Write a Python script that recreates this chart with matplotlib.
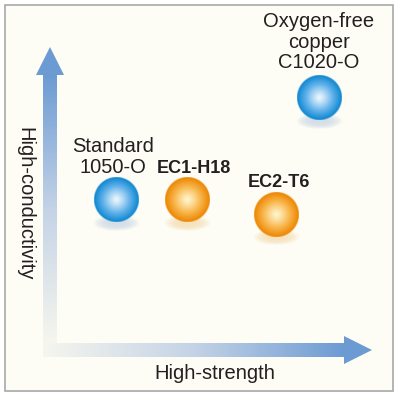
import numpy as np
import matplotlib
matplotlib.use("Agg")
import matplotlib.pyplot as plt
from matplotlib.patches import Rectangle, Polygon
from matplotlib.colors import LinearSegmentedColormap, to_rgb

# ---- data (arbitrary units) ----
materials = ["Standard\n1050-O", "EC1-H18", "EC2-T6", "Oxygen-free\ncopper\nC1020-O"]
strength = [116, 187, 276, 319]
conductivity = [197, 197, 182.5, 299]
kind = ["Al", "EC", "EC", "Cu"]
bold = [False, True, True, False]
x_label = "High-strength"
y_label = "High-conductivity"

# ---- styling ----
W, H = 400, 397
BG = "#fdfdf5"
plt.rcParams["font.family"] = ["Liberation Sans", "DejaVu Sans"]

fig = plt.figure(figsize=(W / 100, H / 100), dpi=100, facecolor="white")
ax = fig.add_axes([0, 0, 1, 1])
ax.set_xlim(0, W)
ax.set_ylim(0, H)
ax.axis("off")

def Y(py):
    return H - py

# background panel
ax.add_patch(Rectangle((5, Y(391)), 388, 386, facecolor=BG, edgecolor="#a8a8a8", lw=1.2, zorder=0))

ARROW = "#6c9bd4"
LIGHT = "#f6f6ee"
grad_cmap = LinearSegmentedColormap.from_list("g", [LIGHT, "#c4d3e6", ARROW])

# vertical arrow shaft (gradient bottom->top)
g = np.linspace(0, 1, 256)[:, None]
ax.imshow(g, cmap=grad_cmap, extent=(43, 57, Y(343), Y(75)), origin="lower",
          aspect="auto", interpolation="bilinear", zorder=1)
ax.add_patch(Polygon([(36, Y(75)), (64, Y(75)), (50, Y(47))], closed=True,
                     facecolor=ARROW, edgecolor="none", zorder=1))
# horizontal arrow shaft (gradient left->right)
ax.imshow(g.T, cmap=grad_cmap, extent=(43, 344, Y(357), Y(343)), origin="lower",
          aspect="auto", interpolation="bilinear", zorder=1)
ax.add_patch(Polygon([(344, Y(336)), (344, Y(364)), (372, Y(350))], closed=True,
                     facecolor=ARROW, edgecolor="none", zorder=1))

ax.text(215, Y(379), x_label, ha="center", va="baseline", fontsize=14.5, color="#231f20")
ax.text(25, Y(204), y_label, ha="center", va="center", rotation=270, fontsize=14.5,
        color="#231f20")

# sphere palettes
palettes = {
    "Al": (["#eef7fd", "#62b2ea", "#0b86d0"], "#d4dde7"),
    "Cu": (["#eef7fd", "#62b2ea", "#0b86d0"], "#d4dde7"),
    "EC": (["#fff6cf", "#f8b54a", "#ec8400"], "#f6e1bb"),
}

R = 22.5
N = 240
u = np.linspace(-1, 1, N)
UU, VV = np.meshgrid(u, u)
RR = np.sqrt(UU ** 2 + VV ** 2)

def sphere(cx, cy, cols, zorder):
    cm = LinearSegmentedColormap.from_list("s", list(zip([0, 0.55, 1], cols)))
    rgba = cm(np.clip(RR, 0, 1) ** 1.15)
    rgba[..., 3] = np.clip((1 - RR) * R + 0.5, 0, 1)
    ax.imshow(rgba, extent=(cx - R, cx + R, cy - R, cy + R), origin="lower",
              interpolation="bilinear", zorder=zorder)

def shadow(cx, cy, col, zorder):
    a, b = 23.5, 8.0
    rgb = np.array(to_rgb(col))
    e = np.sqrt(UU ** 2 + VV ** 2)
    rgba = np.zeros((N, N, 4))
    rgba[..., :3] = rgb
    rgba[..., 3] = np.clip(1 - e ** 3, 0, 1) * 0.95
    ax.imshow(rgba, extent=(cx - a, cx + a, cy - b, cy + b), origin="lower",
              interpolation="bilinear", zorder=zorder)

label_dx = [-3, 7, 3, 0]
label_dy = [27, 27, 27.5, 30]
line_gap = 20.5

for i, name in enumerate(materials):
    cx, cy = strength[i], conductivity[i]
    cols, scol = palettes[kind[i]]
    shadow(cx, cy - 23, scol, 2)
    sphere(cx, cy, cols, 3)
    lines = name.split("\n")
    base = cy + label_dy[i]
    for j, line in enumerate(lines):
        ax.text(cx + label_dx[i], base + (len(lines) - 1 - j) * line_gap, line,
                ha="center", va="baseline",
                fontsize=13 if bold[i] else 14.5,
                fontweight="bold" if bold[i] else "normal",
                color="#231f20", zorder=4)

ax.set_xlim(0, W)
ax.set_ylim(0, H)
fig.savefig("out.png", dpi=100, facecolor="white")
